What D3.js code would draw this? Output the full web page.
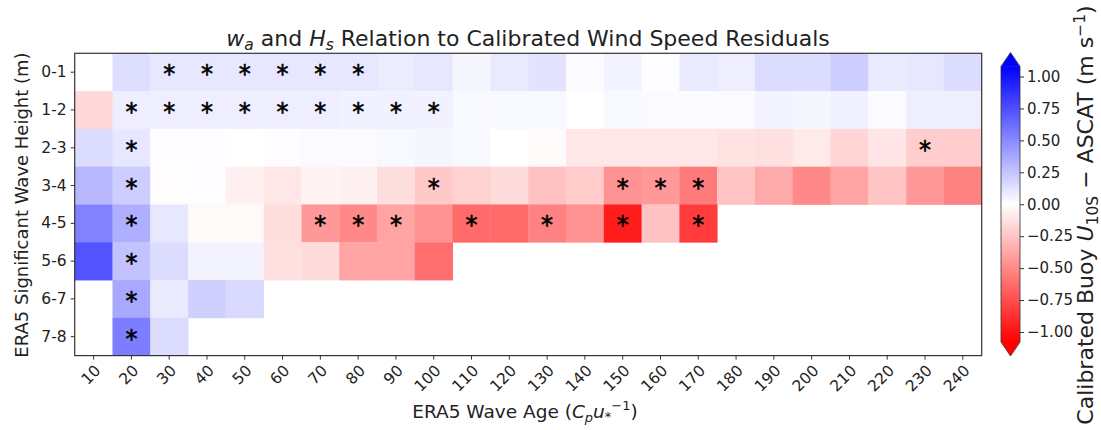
<!DOCTYPE html>
<html>
<head>
<meta charset="utf-8">
<script src="https://cdn.jsdelivr.net/npm/d3@7"></script>
<style>
  html, body { margin: 0; padding: 0; background: #fff; }
  svg text { font-family: "DejaVu Sans", sans-serif; fill: #222; }
</style>
</head>
<body>
<svg id="chart" width="1101" height="430"></svg>
<script>
// Wave age bins (columns) and significant wave height bins (rows)
const waveAges = [10, 20, 30, 40, 50, 60, 70, 80, 90, 100, 110, 120, 130, 140, 150, 160, 170, 180, 190, 200, 210, 220, 230, 240];
const waveHeights = ["0-1", "1-2", "2-3", "3-4", "4-5", "5-6", "6-7", "7-8"];

// Mean calibrated buoy minus ASCAT residual (m s^-1) per bin; null = no data
const resid_0_1 = [null, 0.14, 0.10, 0.10, 0.10, 0.10, 0.10, 0.10, 0.08, 0.10, 0.04, 0.09, 0.12, 0.02, 0.05, 0.01, 0.09, 0.07, 0.15, 0.15, 0.21, 0.09, 0.10, 0.15];
const resid_1_2 = [-0.16, 0.07, 0.07, 0.07, 0.07, 0.07, 0.07, 0.06, 0.06, 0.06, 0.03, 0.03, 0.03, 0.00, 0.03, 0.02, 0.02, 0.02, 0.05, 0.04, 0.06, 0.02, 0.07, 0.07];
const resid_2_3 = [0.15, 0.10, 0.01, 0.01, 0.00, 0.01, 0.02, 0.02, 0.03, 0.04, 0.03, 0.00, -0.02, -0.10, -0.10, -0.10, -0.10, -0.12, -0.13, -0.09, -0.18, -0.11, -0.21, -0.21];
const resid_3_4 = [0.30, 0.21, -0.01, 0.01, -0.06, -0.10, -0.05, -0.06, -0.14, -0.23, -0.19, -0.15, -0.26, -0.22, -0.46, -0.43, -0.56, -0.25, -0.36, -0.50, -0.39, -0.25, -0.43, -0.53];
const resid_4_5 = [0.53, 0.34, 0.10, -0.02, -0.02, -0.14, -0.43, -0.50, -0.39, -0.46, -0.63, -0.63, -0.53, -0.46, -0.96, -0.26, -0.83, null, null, null, null, null, null, null];
const resid_5_6 = [0.73, 0.26, 0.15, 0.05, 0.05, -0.13, -0.15, -0.38, -0.39, -0.61, null, null, null, null, null, null, null, null, null, null, null, null, null, null];
const resid_6_7 = [null, 0.37, 0.09, 0.20, 0.16, null, null, null, null, null, null, null, null, null, null, null, null, null, null, null, null, null, null, null];
const resid_7_8 = [null, 0.55, 0.15, null, null, null, null, null, null, null, null, null, null, null, null, null, null, null, null, null, null, null, null, null];
const residRows = [resid_0_1, resid_1_2, resid_2_3, resid_3_4, resid_4_5, resid_5_6, resid_6_7, resid_7_8];

// Wave-age bins with a significant residual, per height bin
const sig_0_1 = [30, 40, 50, 60, 70, 80];
const sig_1_2 = [20, 30, 40, 50, 60, 70, 80, 90, 100];
const sig_2_3 = [20, 230];
const sig_3_4 = [20, 100, 150, 160, 170];
const sig_4_5 = [20, 70, 80, 90, 110, 130, 150, 170];
const sig_5_6 = [20];
const sig_6_7 = [20];
const sig_7_8 = [20];
const sigRows = [sig_0_1, sig_1_2, sig_2_3, sig_3_4, sig_4_5, sig_5_6, sig_6_7, sig_7_8];

const colorbarTicks = [-1.00, -0.75, -0.50, -0.25, 0.00, 0.25, 0.50, 0.75, 1.00];
const vLimit = 1.08;

const svg = d3.select("#chart");
const plot = { left: 74.7, right: 981.7, top: 53.3, bottom: 355.6 };

const x = d3.scaleBand().domain(waveAges).range([plot.left, plot.right]).padding(0);
const y = d3.scaleBand().domain(waveHeights).range([plot.top, plot.bottom]).padding(0);
const color = d3.scaleLinear().domain([-vLimit, 0, vLimit]).range(["#ff0000", "#ffffff", "#0000ff"]).clamp(true);

// Heatmap cells
const cells = [];
residRows.forEach((row, i) => row.forEach((v, j) => {
  if (v !== null) cells.push({ h: waveHeights[i], a: waveAges[j], v });
}));
svg.append("g").selectAll("rect").data(cells).join("rect")
  .attr("x", d => x(d.a))
  .attr("y", d => y(d.h))
  .attr("width", x.bandwidth() + 0.4)
  .attr("height", y.bandwidth() + 0.4)
  .attr("fill", d => color(d.v));

// Significance markers
const stars = [];
sigRows.forEach((row, i) => row.forEach(a => stars.push({ h: waveHeights[i], a })));
svg.append("g").selectAll("text").data(stars).join("text")
  .attr("x", d => x(d.a) + x.bandwidth() / 2)
  .attr("y", d => y(d.h) + y.bandwidth() / 2 + 10)
  .attr("text-anchor", "middle")
  .style("font-size", "24px")
  .style("fill", "#000")
  .style("stroke", "#000")
  .style("stroke-width", "0.6px")
  .text("*");

// Frame
svg.append("rect")
  .attr("x", plot.left).attr("y", plot.top)
  .attr("width", plot.right - plot.left).attr("height", plot.bottom - plot.top)
  .attr("fill", "none").attr("stroke", "#333").attr("stroke-width", 1.2);

// X axis
const xAxis = svg.append("g")
  .attr("transform", `translate(0,${plot.bottom})`)
  .call(d3.axisBottom(x).tickSize(4).tickSizeOuter(0));
xAxis.select(".domain").remove();
xAxis.selectAll(".tick line").attr("stroke", "#333");
xAxis.selectAll(".tick text")
  .style("font-size", "15.5px")
  .attr("text-anchor", "end")
  .attr("dy", null)
  .attr("x", 0).attr("y", 0)
  .attr("transform", "translate(8,16) rotate(-45)");

// Y axis
const yAxis = svg.append("g")
  .attr("transform", `translate(${plot.left},0)`)
  .call(d3.axisLeft(y).tickSize(4).tickSizeOuter(0));
yAxis.select(".domain").remove();
yAxis.selectAll(".tick line").attr("stroke", "#333");
yAxis.selectAll(".tick text").style("font-size", "15.5px").attr("x", -8);

// Title
const title = svg.append("text")
  .attr("x", 528).attr("y", 46)
  .attr("text-anchor", "middle")
  .style("font-size", "22px");
title.append("tspan").style("font-style", "italic").text("w");
title.append("tspan").style("font-style", "italic").style("font-size", "15.5px").attr("dy", 4).text("a");
title.append("tspan").attr("dy", -4).text(" and ");
title.append("tspan").style("font-style", "italic").text("H");
title.append("tspan").style("font-style", "italic").style("font-size", "15.5px").attr("dy", 4).text("s");
title.append("tspan").attr("dy", -4).text(" Relation to Calibrated Wind Speed Residuals");

// X label
const xl = svg.append("text")
  .attr("x", 525).attr("y", 418)
  .attr("text-anchor", "middle")
  .style("font-size", "18.5px");
xl.append("tspan").text("ERA5 Wave Age (");
xl.append("tspan").style("font-style", "italic").text("C");
xl.append("tspan").style("font-style", "italic").style("font-size", "13px").attr("dy", 4).text("p");
xl.append("tspan").style("font-style", "italic").attr("dy", -4).text("u");
xl.append("tspan").style("font-size", "13px").attr("dy", 3).text("*");
xl.append("tspan").style("font-size", "13px").attr("dy", -11).text("−1");
xl.append("tspan").attr("dy", 8).text(")");

// Y label
svg.append("text")
  .attr("transform", "translate(28,205) rotate(-90)")
  .attr("text-anchor", "middle")
  .style("font-size", "18px")
  .text("ERA5 Significant Wave Height (m)");

// Colorbar
const cb = { left: 1001, width: 19, top: 52.5, bottom: 356 };
const interior = (cb.bottom - cb.top) / 1.1;
const ext = interior * 0.05;
const cbScale = d3.scaleLinear().domain([-vLimit, vLimit]).range([cb.top + ext + interior, cb.top + ext]);

const defs = svg.append("defs");
const grad = defs.append("linearGradient").attr("id", "bwr")
  .attr("x1", 0).attr("y1", 0).attr("x2", 0).attr("y2", 1);
grad.append("stop").attr("offset", "0%").attr("stop-color", color(vLimit));
grad.append("stop").attr("offset", "50%").attr("stop-color", color(0));
grad.append("stop").attr("offset", "100%").attr("stop-color", color(-vLimit));

const cbTop = cbScale(vLimit), cbBot = cbScale(-vLimit);
const cx = cb.left + cb.width / 2;
svg.append("rect")
  .attr("x", cb.left).attr("y", cbTop)
  .attr("width", cb.width).attr("height", cbBot - cbTop)
  .attr("fill", "url(#bwr)");
svg.append("path")
  .attr("d", `M${cb.left},${cbTop + 0.5} L${cx},${cb.top} L${cb.left + cb.width},${cbTop + 0.5} Z`)
  .attr("fill", color(vLimit));
svg.append("path")
  .attr("d", `M${cb.left},${cbBot - 0.5} L${cx},${cb.bottom} L${cb.left + cb.width},${cbBot - 0.5} Z`)
  .attr("fill", color(-vLimit));
svg.append("path")
  .attr("d", `M${cb.left},${cbTop} L${cx},${cb.top} L${cb.left + cb.width},${cbTop} L${cb.left + cb.width},${cbBot} L${cx},${cb.bottom} L${cb.left},${cbBot} Z`)
  .attr("fill", "none").attr("stroke", "#333").attr("stroke-width", 0.8);

const cbAxis = svg.append("g")
  .attr("transform", `translate(${cb.left + cb.width},0)`)
  .call(d3.axisRight(cbScale).tickValues(colorbarTicks).tickFormat(d3.format(".2f")).tickSize(4).tickSizeOuter(0));
cbAxis.select(".domain").remove();
cbAxis.selectAll(".tick line").attr("stroke", "#333");
cbAxis.selectAll(".tick text").style("font-size", "15px").attr("x", 7);

// Colorbar label
const cl = svg.append("text")
  .attr("transform", "translate(1093,215) rotate(-90)")
  .attr("text-anchor", "middle")
  .style("font-size", "22px");
cl.append("tspan").text("Calibrated Buoy ");
cl.append("tspan").style("font-style", "italic").text("U");
cl.append("tspan").style("font-size", "15.5px").attr("dy", 5).text("10S");
cl.append("tspan").attr("dy", -5).text(" − ASCAT (m s");
cl.append("tspan").style("font-size", "15.5px").attr("dy", -8).text("−1");
cl.append("tspan").attr("dy", 8).text(")");
</script>
</body>
</html>
